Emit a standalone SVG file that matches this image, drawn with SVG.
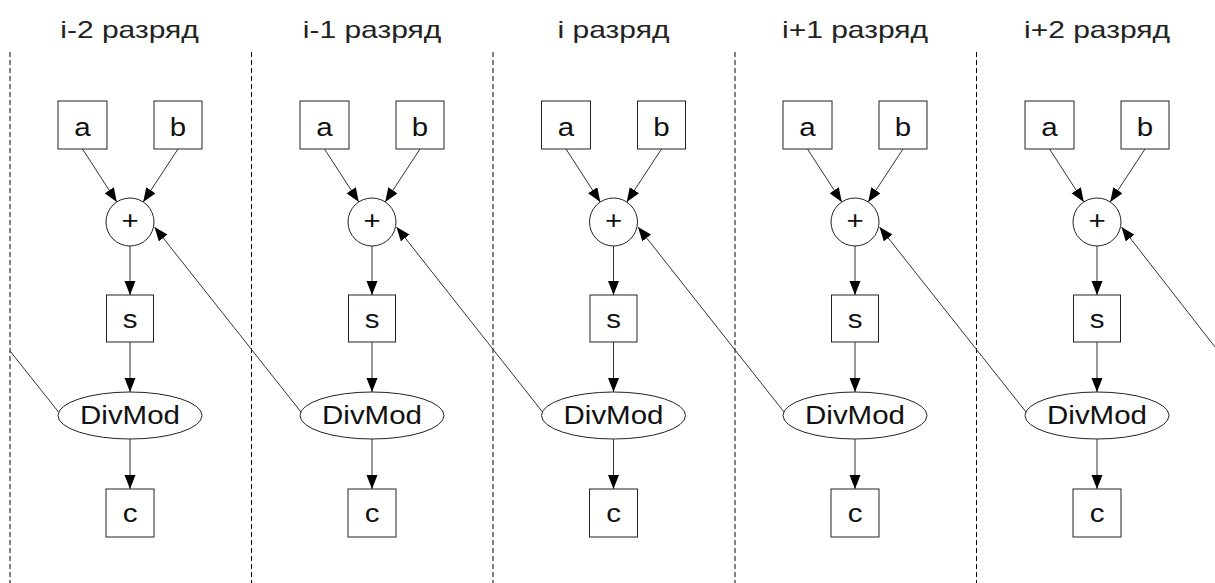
<svg xmlns="http://www.w3.org/2000/svg" width="1215" height="583" viewBox="0 0 1215 583">
<defs>
<marker id="arr" markerUnits="userSpaceOnUse" markerWidth="16" markerHeight="12" refX="14" refY="5.5" orient="auto">
<path d="M0,0 L14,5.5 L0,11 z" fill="#000"/>
</marker>
<style>
.title{font-family:"Liberation Sans",Arial,sans-serif;font-size:24px;fill:#222;text-anchor:middle}
.lbl{font-family:"Liberation Sans",Arial,sans-serif;font-size:25px;fill:#111;text-anchor:middle}
.node rect,.node circle,.node ellipse{fill:#fff;stroke:#222;stroke-width:1}
.sep{stroke:#000;stroke-width:1;stroke-dasharray:5,3}
.edge{stroke:#333;stroke-width:1;fill:none;marker-end:url(#arr)}
.edge.noarr{marker-end:none}
</style>
</defs>
<rect width="1215" height="583" fill="#fff"/>
<g id="titles">
<text class="title" transform="translate(129.5,38) scale(1.25,1)">i-2 разряд</text>
<text class="title" transform="translate(372,38) scale(1.25,1)">i-1 разряд</text>
<text class="title" transform="translate(613.5,38) scale(1.25,1)">i разряд</text>
<text class="title" transform="translate(855,38) scale(1.25,1)">i+1 разряд</text>
<text class="title" transform="translate(1097,38) scale(1.25,1)">i+2 разряд</text>
</g>
<g id="separators">
<line class="sep" x1="10" y1="52" x2="10" y2="583"/>
<line class="sep" x1="251.5" y1="52" x2="251.5" y2="583"/>
<line class="sep" x1="493" y1="52" x2="493" y2="583"/>
<line class="sep" x1="735" y1="52" x2="735" y2="583"/>
<line class="sep" x1="976.5" y1="52" x2="976.5" y2="583"/>
</g>
<g id="connectors">
<line class="edge" x1="82.5" y1="149" x2="116.8" y2="202"/>
<line class="edge" x1="178" y1="149" x2="143.2" y2="202"/>
<line class="edge" x1="130" y1="246" x2="130" y2="295"/>
<line class="edge" x1="130" y1="342" x2="130" y2="392"/>
<line class="edge" x1="130" y1="439" x2="130" y2="489"/>
<line class="edge" x1="324.5" y1="149" x2="358.8" y2="202"/>
<line class="edge" x1="420" y1="149" x2="385.2" y2="202"/>
<line class="edge" x1="372" y1="246" x2="372" y2="295"/>
<line class="edge" x1="372" y1="342" x2="372" y2="392"/>
<line class="edge" x1="372" y1="439" x2="372" y2="489"/>
<line class="edge" x1="566" y1="149" x2="600.3" y2="202"/>
<line class="edge" x1="661.5" y1="149" x2="626.7" y2="202"/>
<line class="edge" x1="613.5" y1="246" x2="613.5" y2="295"/>
<line class="edge" x1="613.5" y1="342" x2="613.5" y2="392"/>
<line class="edge" x1="613.5" y1="439" x2="613.5" y2="489"/>
<line class="edge" x1="807.5" y1="149" x2="841.8" y2="202"/>
<line class="edge" x1="903" y1="149" x2="868.2" y2="202"/>
<line class="edge" x1="855" y1="246" x2="855" y2="295"/>
<line class="edge" x1="855" y1="342" x2="855" y2="392"/>
<line class="edge" x1="855" y1="439" x2="855" y2="489"/>
<line class="edge" x1="1049.5" y1="149" x2="1083.8" y2="202"/>
<line class="edge" x1="1145" y1="149" x2="1110.2" y2="202"/>
<line class="edge" x1="1097" y1="246" x2="1097" y2="295"/>
<line class="edge" x1="1097" y1="342" x2="1097" y2="392"/>
<line class="edge" x1="1097" y1="439" x2="1097" y2="489"/>
<line class="edge noarr" x1="58.5" y1="412" x2="10" y2="351"/>
<line class="edge" x1="301" y1="412" x2="154.5" y2="227"/>
<line class="edge" x1="542.5" y1="412" x2="396.5" y2="227"/>
<line class="edge" x1="784" y1="412" x2="638" y2="227"/>
<line class="edge" x1="1026" y1="412" x2="879.5" y2="227"/>
<line class="edge" x1="1215" y1="347" x2="1121.5" y2="227"/>
</g>
<g id="col0-a" class="node"><rect x="58" y="101" width="49" height="48"/><text class="lbl" transform="translate(82.5,135.5) scale(1.18,1)">a</text></g>
<g id="col0-b" class="node"><rect x="154" y="101" width="48" height="48"/><text class="lbl" transform="translate(178,135.5) scale(1.18,1)">b</text></g>
<g id="col0-plus" class="node"><circle cx="130" cy="222" r="24"/><text class="lbl" transform="translate(130,229) scale(1.18,1)">+</text></g>
<g id="col0-s" class="node"><rect x="106.5" y="295" width="47" height="47"/><text class="lbl" transform="translate(130,328) scale(1.18,1)">s</text></g>
<g id="col0-divmod" class="node"><ellipse cx="130" cy="415.5" rx="72" ry="23.5"/><text class="lbl" transform="translate(130,424) scale(1.18,1)">DivMod</text></g>
<g id="col0-c" class="node"><rect x="106" y="489" width="48" height="48"/><text class="lbl" transform="translate(130,521.5) scale(1.18,1)">c</text></g>
<g id="col1-a" class="node"><rect x="300" y="101" width="49" height="48"/><text class="lbl" transform="translate(324.5,135.5) scale(1.18,1)">a</text></g>
<g id="col1-b" class="node"><rect x="396" y="101" width="48" height="48"/><text class="lbl" transform="translate(420,135.5) scale(1.18,1)">b</text></g>
<g id="col1-plus" class="node"><circle cx="372" cy="222" r="24"/><text class="lbl" transform="translate(372,229) scale(1.18,1)">+</text></g>
<g id="col1-s" class="node"><rect x="348.5" y="295" width="47" height="47"/><text class="lbl" transform="translate(372,328) scale(1.18,1)">s</text></g>
<g id="col1-divmod" class="node"><ellipse cx="372" cy="415.5" rx="72" ry="23.5"/><text class="lbl" transform="translate(372,424) scale(1.18,1)">DivMod</text></g>
<g id="col1-c" class="node"><rect x="348" y="489" width="48" height="48"/><text class="lbl" transform="translate(372,521.5) scale(1.18,1)">c</text></g>
<g id="col2-a" class="node"><rect x="541.5" y="101" width="49" height="48"/><text class="lbl" transform="translate(566,135.5) scale(1.18,1)">a</text></g>
<g id="col2-b" class="node"><rect x="637.5" y="101" width="48" height="48"/><text class="lbl" transform="translate(661.5,135.5) scale(1.18,1)">b</text></g>
<g id="col2-plus" class="node"><circle cx="613.5" cy="222" r="24"/><text class="lbl" transform="translate(613.5,229) scale(1.18,1)">+</text></g>
<g id="col2-s" class="node"><rect x="590" y="295" width="47" height="47"/><text class="lbl" transform="translate(613.5,328) scale(1.18,1)">s</text></g>
<g id="col2-divmod" class="node"><ellipse cx="613.5" cy="415.5" rx="72" ry="23.5"/><text class="lbl" transform="translate(613.5,424) scale(1.18,1)">DivMod</text></g>
<g id="col2-c" class="node"><rect x="589.5" y="489" width="48" height="48"/><text class="lbl" transform="translate(613.5,521.5) scale(1.18,1)">c</text></g>
<g id="col3-a" class="node"><rect x="783" y="101" width="49" height="48"/><text class="lbl" transform="translate(807.5,135.5) scale(1.18,1)">a</text></g>
<g id="col3-b" class="node"><rect x="879" y="101" width="48" height="48"/><text class="lbl" transform="translate(903,135.5) scale(1.18,1)">b</text></g>
<g id="col3-plus" class="node"><circle cx="855" cy="222" r="24"/><text class="lbl" transform="translate(855,229) scale(1.18,1)">+</text></g>
<g id="col3-s" class="node"><rect x="831.5" y="295" width="47" height="47"/><text class="lbl" transform="translate(855,328) scale(1.18,1)">s</text></g>
<g id="col3-divmod" class="node"><ellipse cx="855" cy="415.5" rx="72" ry="23.5"/><text class="lbl" transform="translate(855,424) scale(1.18,1)">DivMod</text></g>
<g id="col3-c" class="node"><rect x="831" y="489" width="48" height="48"/><text class="lbl" transform="translate(855,521.5) scale(1.18,1)">c</text></g>
<g id="col4-a" class="node"><rect x="1025" y="101" width="49" height="48"/><text class="lbl" transform="translate(1049.5,135.5) scale(1.18,1)">a</text></g>
<g id="col4-b" class="node"><rect x="1121" y="101" width="48" height="48"/><text class="lbl" transform="translate(1145,135.5) scale(1.18,1)">b</text></g>
<g id="col4-plus" class="node"><circle cx="1097" cy="222" r="24"/><text class="lbl" transform="translate(1097,229) scale(1.18,1)">+</text></g>
<g id="col4-s" class="node"><rect x="1073.5" y="295" width="47" height="47"/><text class="lbl" transform="translate(1097,328) scale(1.18,1)">s</text></g>
<g id="col4-divmod" class="node"><ellipse cx="1097" cy="415.5" rx="72" ry="23.5"/><text class="lbl" transform="translate(1097,424) scale(1.18,1)">DivMod</text></g>
<g id="col4-c" class="node"><rect x="1073" y="489" width="48" height="48"/><text class="lbl" transform="translate(1097,521.5) scale(1.18,1)">c</text></g>
</svg>
